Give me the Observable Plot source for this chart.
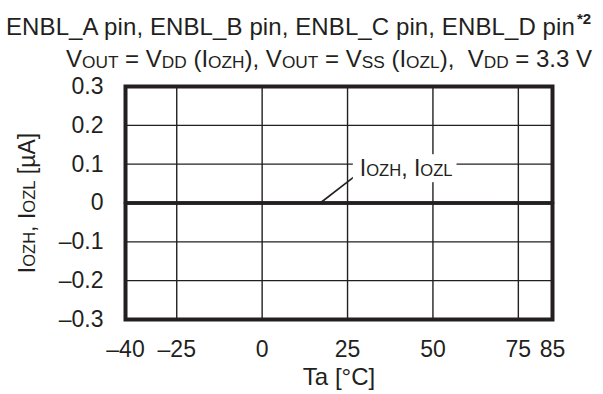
<!DOCTYPE html>
<html>
<head>
<meta charset="utf-8">
<script src="https://cdn.jsdelivr.net/npm/d3@7"></script>
<script src="https://cdn.jsdelivr.net/npm/@observablehq/plot@0.6"></script>
<style>
  html, body { margin: 0; padding: 0; background: #ffffff; }
  #wrap { position: relative; width: 603px; height: 394px; overflow: hidden;
          font-family: "Liberation Sans", Arial, Helvetica, sans-serif; color: #231f20; }
  .t { position: absolute; white-space: nowrap; font-size: 24px; line-height: 24px; }
  .s { font-size: 0.72em; position: relative; top: 0.06em; }
  .sup { font-size: 15px; font-weight: bold; position: relative; top: -0.75em; margin-left: 2px; }
  #chart { position: absolute; left: 0; top: 76px; }
</style>
</head>
<body>
<div id="wrap">
  <div class="t" id="line1" style="left:6px; top:15px; letter-spacing:0.1px;"></div>
  <div class="t" id="line2" style="right:11px; top:47px;"></div>
  <div id="chart"></div>
</div>
<script>
// ---- data ----
const pins = ["ENBL_A pin", "ENBL_B pin", "ENBL_C pin", "ENBL_D pin"];
const note = "*2";
const vdd = "3.3 V";
const temperature = [-40, -25, 0, 25, 50, 75, 85];
const iozh = [0, 0, 0, 0, 0, 0, 0];
const iozl = [0, 0, 0, 0, 0, 0, 0];
const xTicks = [-40, -25, 0, 25, 50, 75, 85];
const yTicks = [-0.3, -0.2, -0.1, 0, 0.1, 0.2, 0.3];
const xGrid = [-25, 0, 25, 50, 75];
const yGrid = [-0.2, -0.1, 0.1, 0.2];
const xLabel = "Ta [°C]";
const yLabel = "IOZH, IOZL [µA]";
const seriesLabel = "IOZH, IOZL";
const leader = [{x1: 17, y1: 0, x2: 26.7, y2: 0.066}];
const labelAt = [{x: 28.6, y: 0.088}];

const ink = "#231f20";

// ---- titles ----
document.getElementById("line1").innerHTML =
  pins.join(", ") + '<span class="sup">' + note + '</span>';
document.getElementById("line2").innerHTML =
  'V<span class="s">OUT</span> = V<span class="s">DD</span> (I<span class="s">OZH</span>), ' +
  'V<span class="s">OUT</span> = V<span class="s">SS</span> (I<span class="s">OZL</span>),&nbsp; ' +
  'V<span class="s">DD</span> = ' + vdd;

// ---- chart ----
const rows = temperature.map((t, i) => ({t, h: iozh[i], l: iozl[i]}));
const dash = "\u2013";
const fmtY = d => d === 0 ? "0" : (d < 0 ? dash : "") + Math.abs(d).toFixed(1);
const fmtX = d => d < 0 ? dash + Math.abs(d) : String(d);

const chart = Plot.plot({
  width: 603,
  height: 318,
  marginTop: 10,
  marginBottom: 75,
  marginLeft: 125,
  marginRight: 51,
  style: {fontFamily: '"Liberation Sans", Arial, sans-serif', fontSize: "23px", color: ink, background: "transparent", overflow: "visible"},
  x: {domain: [-40, 85], ticks: xTicks, tickFormat: fmtX, tickSize: 0, tickPadding: 21, label: null},
  y: {domain: [-0.3, 0.3], ticks: yTicks, tickFormat: fmtY, tickSize: 0, tickPadding: 22, label: null},
  marks: [
    Plot.ruleX(xGrid, {stroke: ink, strokeWidth: 1.4}),
    Plot.ruleY(yGrid, {stroke: ink, strokeWidth: 1.4}),
    Plot.line(rows, {x: "t", y: "h", stroke: ink, strokeWidth: 3.6}),
    Plot.line(rows, {x: "t", y: "l", stroke: ink, strokeWidth: 3.6}),
    Plot.link(leader, {x1: "x1", y1: "y1", x2: "x2", y2: "y2", stroke: ink, strokeWidth: 1.6}),
    Plot.text(labelAt, {x: "x", y: "y", text: () => seriesLabel, textAnchor: "start", lineAnchor: "middle",
      fill: ink, fontSize: 23}),
    Plot.frame({stroke: ink, strokeWidth: 4}),
    Plot.text([xLabel], {frameAnchor: "bottom", text: d => d, dy: 58, textAnchor: "middle", lineAnchor: "middle", fill: ink, fontSize: 24}),
    Plot.text([yLabel], {frameAnchor: "left", text: d => d, dx: -98, dy: 0, rotate: -90, textAnchor: "middle", lineAnchor: "middle", fill: ink, fontSize: 23})
  ]
});
document.getElementById("chart").appendChild(chart);

// rich-text subscripts for I_OZH / I_OZL labels
function subscriptify(el, parts) {
  const t = d3.select(el);
  t.text(null);
  for (const [s, sub] of parts) {
    const sp = t.append("tspan").text(s);
    if (sub) sp.attr("font-size", "0.72em");
  }
}
chart.querySelectorAll("text").forEach(el => {
  if (el.textContent === yLabel) {
    subscriptify(el, [["I"], ["OZH", 1], [", I"], ["OZL", 1], [" [µA]"]]);
  } else if (el.textContent === seriesLabel) {
    subscriptify(el, [["I"], ["OZH", 1], [", I"], ["OZL", 1]]);
    // white box behind the series label, sized from the text itself
    const b = el.getBBox();
    const rect = document.createElementNS("http://www.w3.org/2000/svg", "rect");
    rect.setAttribute("x", b.x - 7);
    rect.setAttribute("y", b.y - 1);
    rect.setAttribute("width", b.width + 11);
    rect.setAttribute("height", b.height + 2);
    rect.setAttribute("fill", "white");
    if (el.getAttribute("transform")) rect.setAttribute("transform", el.getAttribute("transform"));
    el.parentNode.insertBefore(rect, el);
  }
});
</script>
</body>
</html>
